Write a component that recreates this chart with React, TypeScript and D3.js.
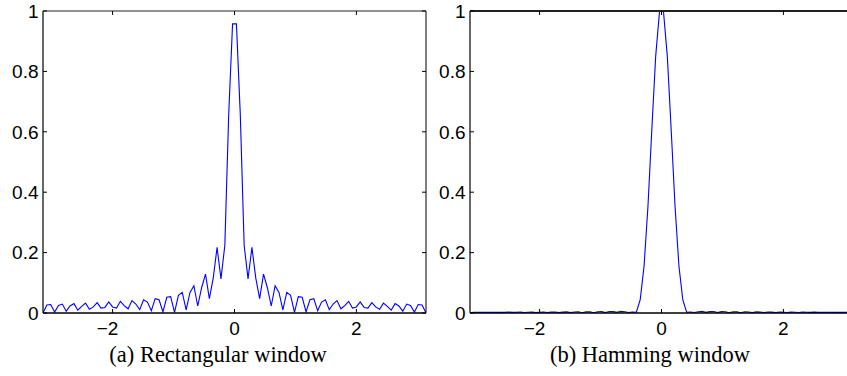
import React from 'react';
import * as d3 from 'd3';

// Sampling grid: 100 equally spaced frequencies over [-pi, pi]
const N_SAMPLES = 100;

// |W(w)| of the rectangular window
const rectValues = [
  0.0000, 0.0266, 0.0281, 0.0030, 0.0251, 0.0296, 0.0060, 0.0235, 0.0311, 0.0092,
  0.0219, 0.0328, 0.0125, 0.0202, 0.0345, 0.0161, 0.0184, 0.0364, 0.0201, 0.0163,
  0.0386, 0.0246, 0.0140, 0.0410, 0.0298, 0.0112, 0.0440, 0.0361, 0.0078, 0.0476,
  0.0439, 0.0036, 0.0522, 0.0541, 0.0021, 0.0586, 0.0684, 0.0102, 0.0680, 0.0903,
  0.0232, 0.0836, 0.1288, 0.0476, 0.1157, 0.2173, 0.1130, 0.2236, 0.6560, 0.9574,
  0.9574, 0.6560, 0.2236, 0.1130, 0.2173, 0.1157, 0.0476, 0.1288, 0.0836, 0.0232,
  0.0903, 0.0680, 0.0102, 0.0684, 0.0586, 0.0021, 0.0541, 0.0522, 0.0036, 0.0439,
  0.0476, 0.0078, 0.0361, 0.0440, 0.0112, 0.0298, 0.0410, 0.0140, 0.0246, 0.0386,
  0.0163, 0.0201, 0.0364, 0.0184, 0.0161, 0.0345, 0.0202, 0.0125, 0.0328, 0.0219,
  0.0092, 0.0311, 0.0235, 0.0060, 0.0296, 0.0251, 0.0030, 0.0281, 0.0266, 0.0000,
];

// |W(w)| of the Hamming window
const hammingValues = [
  0.0010, 0.0026, 0.0020, 0.0021, 0.0027, 0.0021, 0.0022, 0.0027, 0.0021, 0.0022,
  0.0028, 0.0020, 0.0023, 0.0029, 0.0019, 0.0024, 0.0030, 0.0018, 0.0026, 0.0031,
  0.0017, 0.0028, 0.0033, 0.0015, 0.0030, 0.0036, 0.0013, 0.0034, 0.0039, 0.0009,
  0.0037, 0.0043, 0.0006, 0.0041, 0.0046, 0.0012, 0.0048, 0.0044, 0.0021, 0.0052,
  0.0040, 0.0019, 0.0031, 0.0027, 0.0443, 0.1565, 0.3534, 0.6074, 0.8507, 1.0000,
  1.0000, 0.8507, 0.6074, 0.3534, 0.1565, 0.0443, 0.0027, 0.0031, 0.0019, 0.0040,
  0.0052, 0.0021, 0.0044, 0.0048, 0.0012, 0.0046, 0.0041, 0.0006, 0.0043, 0.0037,
  0.0009, 0.0039, 0.0034, 0.0013, 0.0036, 0.0030, 0.0015, 0.0033, 0.0028, 0.0017,
  0.0031, 0.0026, 0.0018, 0.0030, 0.0024, 0.0019, 0.0029, 0.0023, 0.0020, 0.0028,
  0.0022, 0.0021, 0.0027, 0.0022, 0.0021, 0.0027, 0.0021, 0.0020, 0.0026, 0.0010,
];

const xTicks = [-2, 0, 2];
const xTickLabels = ['\u22122', '0', '2'];
const yTicks = [0, 0.2, 0.4, 0.6, 0.8, 1];
const yTickLabels = ['0', '0.2', '0.4', '0.6', '0.8', '1'];
const captions = ['(a) Rectangular window', '(b) Hamming window'];

const W = 847;
const H = 376;
const TOP = 11;
const BOTTOM = 313;
const TICK = 4;
const LABEL_SIZE = 19;
const SANS = 'Liberation Sans, Arial, Helvetica, sans-serif';
const SERIF = 'Liberation Serif, Times New Roman, serif';

const omega = d3.range(N_SAMPLES).map((i) => -Math.PI + (2 * Math.PI * i) / (N_SAMPLES - 1));

type PanelProps = {
  id: string;
  values: number[];
  x0: number;
  x1: number;
  caption: string;
  captionX: number;
  topStroke: number;
};

function Panel({ id, values, x0, x1, caption, captionX, topStroke }: PanelProps) {
  const xs = d3.scaleLinear().domain([-Math.PI, Math.PI]).range([x0, x1]);
  const ys = d3.scaleLinear().domain([0, 1]).range([BOTTOM, TOP]);
  const line = d3
    .line<number>()
    .x((_, i) => xs(omega[i]))
    .y((d) => ys(d));
  const path = line(values) || '';
  return (
    <g>
      <defs>
        <clipPath id={`clip-${id}`}>
          <rect x={x0} y={TOP} width={x1 - x0} height={BOTTOM - TOP} />
        </clipPath>
      </defs>
      <rect x={x0} y={TOP} width={x1 - x0} height={BOTTOM - TOP} fill="#fff" />
      <path d={path} fill="none" stroke="#0000ff" strokeWidth={1.1} clipPath={`url(#clip-${id})`} strokeLinejoin="miter" />
      {/* frame */}
      <line x1={x0} x2={x1} y1={BOTTOM} y2={BOTTOM} stroke="#000" strokeWidth={1.4} />
      <line x1={x0} x2={x1} y1={TOP} y2={TOP} stroke="#222" strokeWidth={topStroke} />
      <line x1={x0} x2={x0} y1={TOP} y2={BOTTOM} stroke="#000" strokeWidth={1.2} />
      <line x1={x1} x2={x1} y1={TOP} y2={BOTTOM} stroke="#000" strokeWidth={1} />
      {/* x ticks */}
      {xTicks.map((t, i) => (
        <g key={`xt${i}`}>
          <line x1={xs(t)} x2={xs(t)} y1={BOTTOM} y2={BOTTOM - TICK} stroke="#000" strokeWidth={1} />
          <line x1={xs(t)} x2={xs(t)} y1={TOP} y2={TOP + TICK} stroke="#000" strokeWidth={1} />
          <text
            x={xs(t)}
            dx={t < 0 ? -5 : 0}
            y={335}
            textAnchor="middle"
            fontFamily={SANS}
            fontSize={LABEL_SIZE}
            fill="#000"
          >
            {xTickLabels[i]}
          </text>
        </g>
      ))}
      {/* y ticks */}
      {yTicks.map((t, i) => (
        <g key={`yt${i}`}>
          <line x1={x0} x2={x0 + TICK} y1={ys(t)} y2={ys(t)} stroke="#000" strokeWidth={1} />
          <line x1={x1} x2={x1 - TICK} y1={ys(t)} y2={ys(t)} stroke="#000" strokeWidth={1} />
          <text
            x={x0 - 4.5}
            y={ys(t) + 6.8}
            textAnchor="end"
            fontFamily={SANS}
            fontSize={LABEL_SIZE}
            fill="#000"
          >
            {yTickLabels[i]}
          </text>
        </g>
      ))}
      <text x={captionX} y={362} textAnchor="middle" fontFamily={SERIF} fontSize={22.5} fill="#000">
        {caption}
      </text>
    </g>
  );
}

export default function App() {
  return (
    <svg
      width={W}
      height={H}
      viewBox={`0 0 ${W} ${H}`}
      style={{ position: 'absolute', left: 0, top: 0, background: '#fff', display: 'block' }}
    >
      <rect x={0} y={0} width={W} height={H} fill="#fff" />
      <Panel id="a" values={rectValues} x0={43} x1={426} caption={captions[0]} captionX={218} topStroke={1.2} />
      <Panel id="b" values={hammingValues} x0={470} x1={853} caption={captions[1]} captionX={650} topStroke={2} />
    </svg>
  );
}
